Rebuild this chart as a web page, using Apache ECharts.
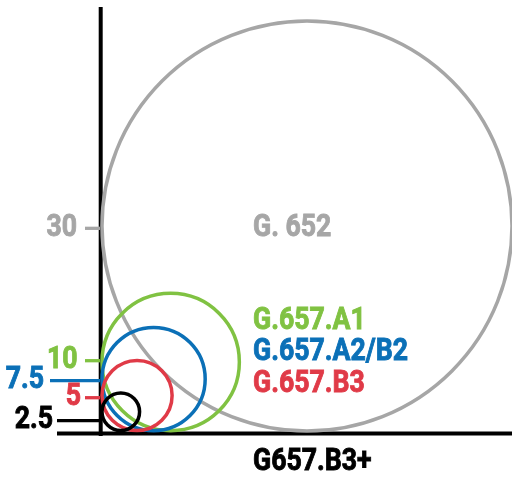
<!DOCTYPE html>
<html><head><meta charset="utf-8">
<script src="https://cdn.jsdelivr.net/npm/echarts@6/dist/echarts.min.js"></script>
<style>html,body{margin:0;padding:0;background:#fff}#c{width:512px;height:479px}</style>
</head><body><div id="c"></div>
<script>
// ---- data ----
const fiberNames   = ['G. 652', 'G.657.A1', 'G.657.A2/B2', 'G.657.B3', 'G657.B3+'];
const tickLabels   = ['30', '10', '7.5', '5', '2.5'];
const circleRadius = [30, 10.05, 7.55, 5.13, 2.75];
const tickPosition = [29.66, 10.24, 7.31, 4.81, 1.44];

// ---- styles ----
const colors = ['#a6a6a6', '#80c242', '#0b70b7', '#e03a47', '#000000'];
const tickLength = [15, 15, 50, 15, 43];
const labelGap = [8, 7.5, 6, 4, 4];
const FONT = {fontFamily: 'Roboto', fontWeight: 'bold', fontSize: 31};
const SX = 0.86;
const nameLayout = [[253, 228], [253, 321.6], [253, 352.1], [253, 384.1], [253, 462.4]];

function textStyle(text, color, align) {
  return Object.assign({text: text, fill: color, stroke: color, lineWidth: 0.9,
                        align: align, verticalAlign: 'middle'}, FONT);
}

const chart = echarts.init(document.getElementById('c'));

const graphics = [
  {type: 'line', z: 0, shape: {x1: 100.7, y1: 7, x2: 100.7, y2: 436}, style: {stroke: '#000', lineWidth: 4}},
  {type: 'line', z: 0, shape: {x1: 57, y1: 433.5, x2: 512, y2: 433.5}, style: {stroke: '#000', lineWidth: 4}}
];
fiberNames.forEach((n, i) => {
  graphics.push({
    type: 'text', z: 10, x: nameLayout[i][0], y: nameLayout[i][1], scaleX: SX,
    style: textStyle(n, colors[i], 'left')
  });
});

chart.setOption({
  animation: false,
  grid: {left: 102, right: 0, top: 21.5, bottom: 48.5},
  xAxis: {type: 'value', min: 0, max: 60, show: false},
  yAxis: {type: 'value', min: 0, max: 60, show: false},
  graphic: graphics,
  series: [
    {
      type: 'custom', clip: false, z: 2,
      data: circleRadius.map((r, i) => [r, r, i]),
      renderItem: function (params, api) {
        const r = api.value(0), i = api.value(2);
        const c = api.coord([r, r]);
        const s = api.size([r, r]);
        return {type: 'circle', shape: {cx: c[0], cy: c[1], r: s[0]},
                style: {fill: 'none', stroke: colors[i], lineWidth: 3.5}};
      }
    },
    {
      type: 'custom', clip: false, z: 3,
      data: tickPosition.map((y, i) => [0, y, i]),
      renderItem: function (params, api) {
        const i = api.value(2);
        const p = api.coord([0, api.value(1)]);
        const xEnd = p[0] - 2;
        const xStart = xEnd - tickLength[i];
        return {type: 'group', children: [
          {type: 'line', shape: {x1: xStart, y1: p[1], x2: xEnd, y2: p[1]},
           style: {stroke: colors[i], lineWidth: 3.3}},
          {type: 'text', x: xStart - labelGap[i], y: p[1], scaleX: SX,
           style: textStyle(tickLabels[i], colors[i], 'right')}
        ]};
      }
    }
  ]
});
</script></body></html>
